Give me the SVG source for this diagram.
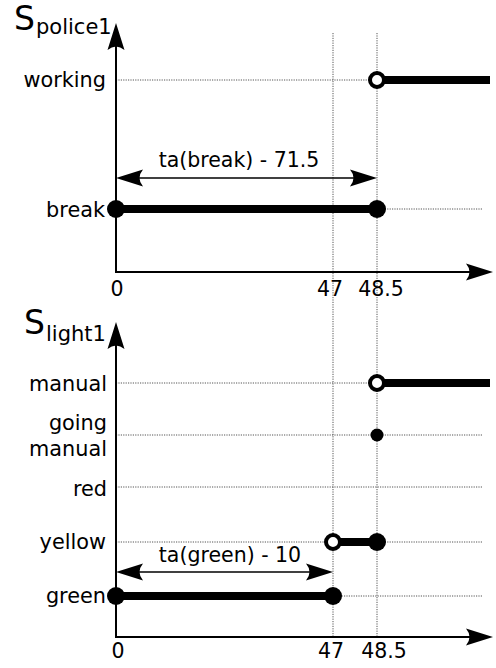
<svg xmlns="http://www.w3.org/2000/svg" xmlns:xlink="http://www.w3.org/1999/xlink" width="496" height="668" viewBox="0 0 496 668">
<style>
text{font-family:"DejaVu Sans","Liberation Sans",sans-serif;fill:#000}
.lbl{font-size:20.8px;text-anchor:end}
.num{font-size:20.5px;text-anchor:middle}
.big{font-size:33px}
.sub{font-size:21px}
.axis{stroke:#000;stroke-width:2;fill:none}
.dim{stroke:#000;stroke-width:1.5;fill:none}
.grid{stroke:#555;stroke-width:1;stroke-dasharray:1.2,1.2;fill:none}
.thick{stroke:#000;stroke-width:8;fill:none}
.dot{fill:#000}
.open{fill:#fff;stroke:#000;stroke-width:4}
</style>
<defs>
<path id="ah" d="M0,0 L-27,-8.5 Q-20,0 -27,8.5 Z" fill="#000"/>
</defs>

<g id="grid">
<line class="grid" x1="333" y1="33" x2="333" y2="637"/>
<line class="grid" x1="377" y1="33" x2="377" y2="637"/>
<line class="grid" x1="116" y1="80" x2="482" y2="80"/>
<line class="grid" x1="116" y1="209" x2="482" y2="209"/>
<line class="grid" x1="116" y1="383" x2="482" y2="383"/>
<line class="grid" x1="116" y1="435" x2="482" y2="435"/>
<line class="grid" x1="116" y1="487" x2="482" y2="487"/>
<line class="grid" x1="116" y1="542" x2="482" y2="542"/>
<line class="grid" x1="116" y1="596" x2="482" y2="596"/>
</g>

<g id="axes-police">
<line class="axis" x1="116" y1="272" x2="116" y2="32"/>
<use xlink:href="#ah" transform="translate(116,23) rotate(-90)"/>
<line class="axis" x1="115" y1="272" x2="484" y2="272"/>
<use xlink:href="#ah" transform="translate(493,272)"/>
<text x="14" y="30" class="big">S</text>
<text x="36" y="34" class="sub">police1</text>
<text x="106" y="87" class="lbl">working</text>
<text x="105" y="217" class="lbl">break</text>
<text x="117" y="296" class="num">0</text>
<text x="330" y="296" class="num">47</text>
<text x="381" y="296" class="num">48.5</text>
</g>

<g id="axes-light">
<line class="axis" x1="116" y1="637" x2="116" y2="331"/>
<use xlink:href="#ah" transform="translate(116,322) rotate(-90)"/>
<line class="axis" x1="115" y1="637" x2="484" y2="637"/>
<use xlink:href="#ah" transform="translate(493,637)"/>
<text x="24" y="334" class="big">S</text>
<text x="46" y="341" class="sub">light1</text>
<text x="107" y="391" class="lbl">manual</text>
<text x="107" y="430" class="lbl">going</text>
<text x="107" y="456" class="lbl">manual</text>
<text x="107" y="496" class="lbl">red</text>
<text x="106" y="549" class="lbl">yellow</text>
<text x="106" y="603" class="lbl">green</text>
<text x="118" y="658" class="num">0</text>
<text x="331" y="658" class="num">47</text>
<text x="384" y="658" class="num">48.5</text>
</g>

<g id="connectors">
<line class="dim" x1="124" y1="178" x2="369" y2="178"/>
<use xlink:href="#ah" transform="translate(116,178) rotate(180)"/>
<use xlink:href="#ah" transform="translate(377,178)"/>
<text x="239" y="167" class="num">ta(break) - 71.5</text>
<line class="dim" x1="124" y1="572" x2="325" y2="572"/>
<use xlink:href="#ah" transform="translate(116,572) rotate(180)"/>
<use xlink:href="#ah" transform="translate(333,572)"/>
<text x="230" y="562" class="num">ta(green) - 10</text>
</g>

<g id="police-signal">
<line class="thick" x1="377" y1="80" x2="490" y2="80"/>
<circle class="open" cx="377" cy="80" r="7"/>
<line class="thick" x1="116" y1="209" x2="377" y2="209"/>
<circle class="dot" cx="116" cy="209" r="9"/>
<circle class="dot" cx="377" cy="209" r="9"/>
</g>

<g id="light-signal">
<line class="thick" x1="377" y1="383" x2="490" y2="383"/>
<circle class="open" cx="377" cy="383" r="7"/>
<circle class="dot" cx="377" cy="435" r="6.5"/>
<line class="thick" x1="333" y1="542" x2="377" y2="542"/>
<circle class="open" cx="333" cy="542" r="7"/>
<circle class="dot" cx="377" cy="542" r="9"/>
<line class="thick" x1="116" y1="596" x2="333" y2="596"/>
<circle class="dot" cx="116" cy="596" r="9"/>
<circle class="dot" cx="333" cy="596" r="9"/>
</g>
</svg>
